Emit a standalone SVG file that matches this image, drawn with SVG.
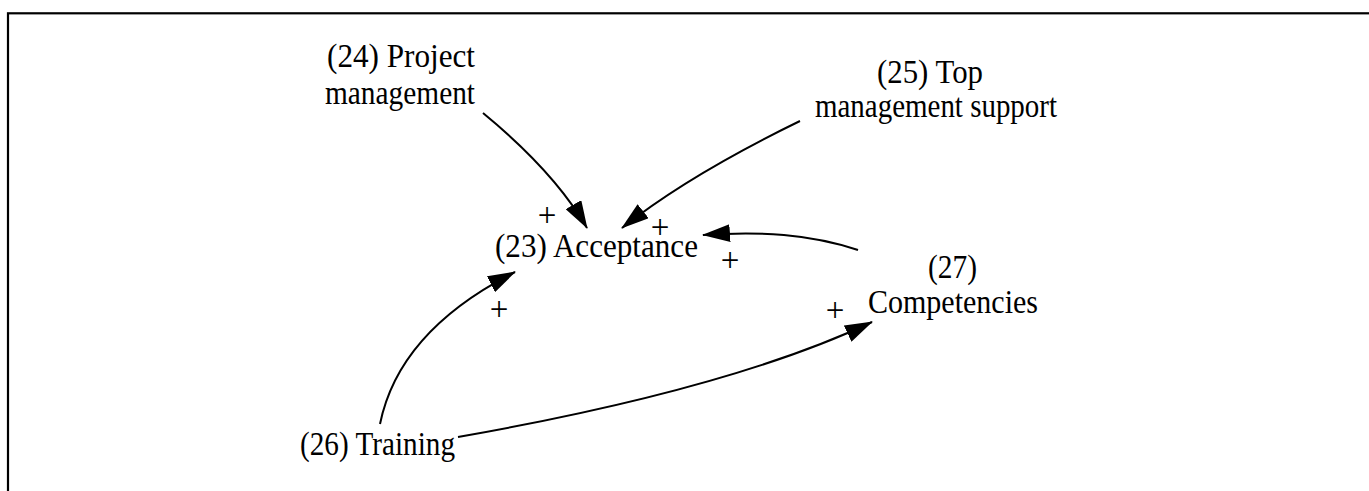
<svg xmlns="http://www.w3.org/2000/svg" width="1369" height="491" viewBox="0 0 1369 491">
  <style>
    .lbl { font-family: "Liberation Serif", "Times New Roman", serif; font-size: 33px; fill: #000; text-anchor: middle; }
    .sign { font-family: "Liberation Serif", "Times New Roman", serif; font-size: 33px; fill: #000; text-anchor: middle; }
    .edge { fill: none; stroke: #000; stroke-width: 2; marker-end: url(#head); }
  </style>
  <defs>
    <marker id="head" markerUnits="userSpaceOnUse" viewBox="0 0 28 18" markerWidth="28" markerHeight="18" refX="27" refY="9" orient="auto">
      <path d="M0,0 L28,9 L0,18 Z" fill="#000"/>
    </marker>
  </defs>

  <rect width="1369" height="491" fill="#fff"/>
  <!-- frame, open to the right and bottom -->
  <rect x="8" y="13.3" width="1400" height="520" fill="none" stroke="#000" stroke-width="2.2"/>

  <g id="connectors">
    <path class="edge" d="M483,113 C528,150 565,190 587,228"/>
    <path class="edge" d="M800,121 C730,155 670,190 622,228"/>
    <path class="edge" d="M858,250 C810,234 760,231 703,235"/>
    <path class="edge" d="M380,424 C393,360 440,310 515,272"/>
    <path class="edge" d="M458,437 C600,412 760,375 872,322"/>
    <text class="sign" x="547" y="226">+</text>
    <text class="sign" x="660" y="238">+</text>
    <text class="sign" x="730" y="271">+</text>
    <text class="sign" x="499" y="320">+</text>
    <text class="sign" x="835" y="321">+</text>
  </g>

  <g id="n23">
    <text class="lbl" x="596.5" y="257" textLength="203" lengthAdjust="spacingAndGlyphs">(23) Acceptance</text>
  </g>
  <g id="n24">
    <text class="lbl" x="401" y="67" textLength="148" lengthAdjust="spacingAndGlyphs">(24) Project</text>
    <text class="lbl" x="400" y="104" textLength="150" lengthAdjust="spacingAndGlyphs">management</text>
  </g>
  <g id="n25">
    <text class="lbl" x="930" y="83" textLength="106" lengthAdjust="spacingAndGlyphs">(25) Top</text>
    <text class="lbl" x="936" y="117" textLength="242" lengthAdjust="spacingAndGlyphs">management support</text>
  </g>
  <g id="n26">
    <text class="lbl" x="377.5" y="455" textLength="155" lengthAdjust="spacingAndGlyphs">(26) Training</text>
  </g>
  <g id="n27">
    <text class="lbl" x="952.5" y="278" textLength="49" lengthAdjust="spacingAndGlyphs">(27)</text>
    <text class="lbl" x="953" y="313" textLength="170" lengthAdjust="spacingAndGlyphs">Competencies</text>
  </g>
</svg>
